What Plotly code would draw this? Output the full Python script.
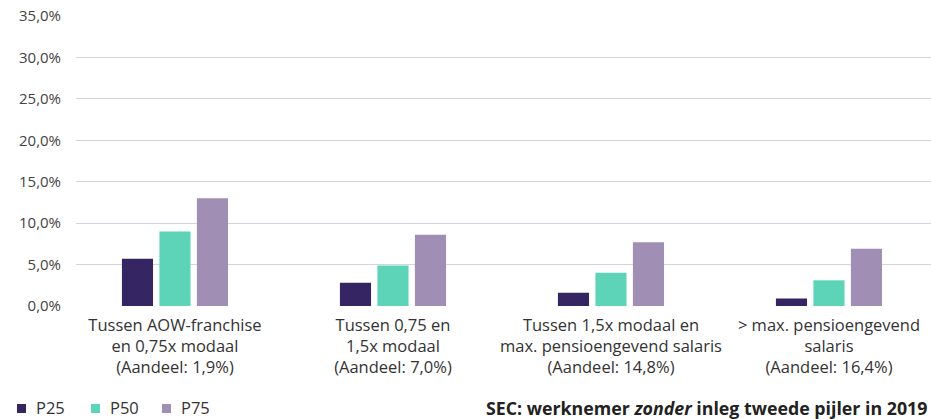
import plotly.graph_objects as go

categories = [
    "Tussen AOW-franchise<br>en 0,75x modaal<br>(Aandeel: 1,9%)",
    "Tussen 0,75 en<br>1,5x modaal<br>(Aandeel: 7,0%)",
    "Tussen 1,5x modaal en<br>max. pensioengevend salaris<br>(Aandeel: 14,8%)",
    "> max. pensioengevend<br>salaris<br>(Aandeel: 16,4%)",
]
p25 = [5.7, 2.8, 1.6, 0.9]
p50 = [9.0, 4.9, 4.0, 3.1]
p75 = [13.0, 8.6, 7.7, 6.9]
series_names = ["P25", "P50", "P75"]
colors = ["#352563", "#5dd3b8", "#a08eb5"]
y_ticks = [0, 5, 10, 15, 20, 25, 30, 35]
y_tick_labels = ["0,0%", "5,0%", "10,0%", "15,0%", "20,0%", "25,0%", "30,0%", "35,0%"]

FONT = "Open Sans"
x_idx = list(range(len(categories)))
fig = go.Figure()
for name, vals, col in zip(series_names, [p25, p50, p75], colors):
    fig.add_trace(go.Bar(x=x_idx, y=vals, name=name, showlegend=False,
                         marker=dict(color=col, line=dict(width=0))))

W, H = 931, 419
plot_left, plot_top, plot_bot = 76, 16, 306
ph = plot_bot - plot_top
pw = W - plot_left


def px_x(p):
    return (p - plot_left) / pw


def px_y(p):
    return (plot_bot - p) / ph


leg_cy = 407.5
annotations, shapes = [], []
leg_sq_px = [17, 91, 162]
for name, col, xp in zip(series_names, colors, leg_sq_px):
    shapes.append(dict(type="rect", xref="paper", yref="paper",
                       x0=px_x(xp), x1=px_x(xp + 9), y0=px_y(leg_cy + 1 - 4.5), y1=px_y(leg_cy + 1 + 4.5),
                       fillcolor=col, line=dict(width=0)))
    annotations.append(dict(
        text=name, x=px_x(xp + 17), xref="paper", xanchor="left",
        y=px_y(leg_cy), yref="paper", yanchor="middle", showarrow=False,
        font=dict(family=FONT, size=16.5, color="#333333")))
annotations.append(dict(
    text="<b>SEC: werknemer </b><i><b>zonder</b></i><b> inleg tweede pijler in 2019</b>",
    x=px_x(929), xref="paper", xanchor="right", y=px_y(leg_cy), yref="paper", yanchor="middle",
    showarrow=False, font=dict(family=FONT, size=17.8, color="#222222")))

fig.update_layout(
    width=W, height=H,
    margin=dict(l=plot_left, r=0, t=plot_top, b=H - plot_bot, autoexpand=False),
    paper_bgcolor="white", plot_bgcolor="white",
    font=dict(family=FONT, size=16, color="#333333"),
    barmode="group", bargap=0.484, bargroupgap=0.17,
    showlegend=False,
    annotations=annotations, shapes=shapes,
)
fig.update_xaxes(
    tickmode="array", tickvals=x_idx, ticktext=categories, automargin=False,
    range=[-0.454, 3.468], showgrid=False, zeroline=False, showline=False,
    ticks="", ticklabelstandoff=7, tickfont=dict(family=FONT, size=16.5, color="#333333"),
)
fig.update_yaxes(
    range=[0, 35], tickmode="array", tickvals=y_ticks, ticktext=y_tick_labels, automargin=False,
    showgrid=True, gridcolor="#d6d2e0", gridwidth=1.3, zeroline=False, showline=False,
    ticks="", ticklabelstandoff=14, tickfont=dict(family=FONT, size=15, color="#444444"),
)
fig.write_html("out.html", config={"displayModeBar": False},
               post_script="document.body.style.margin='0';document.body.style.overflow='hidden';")
